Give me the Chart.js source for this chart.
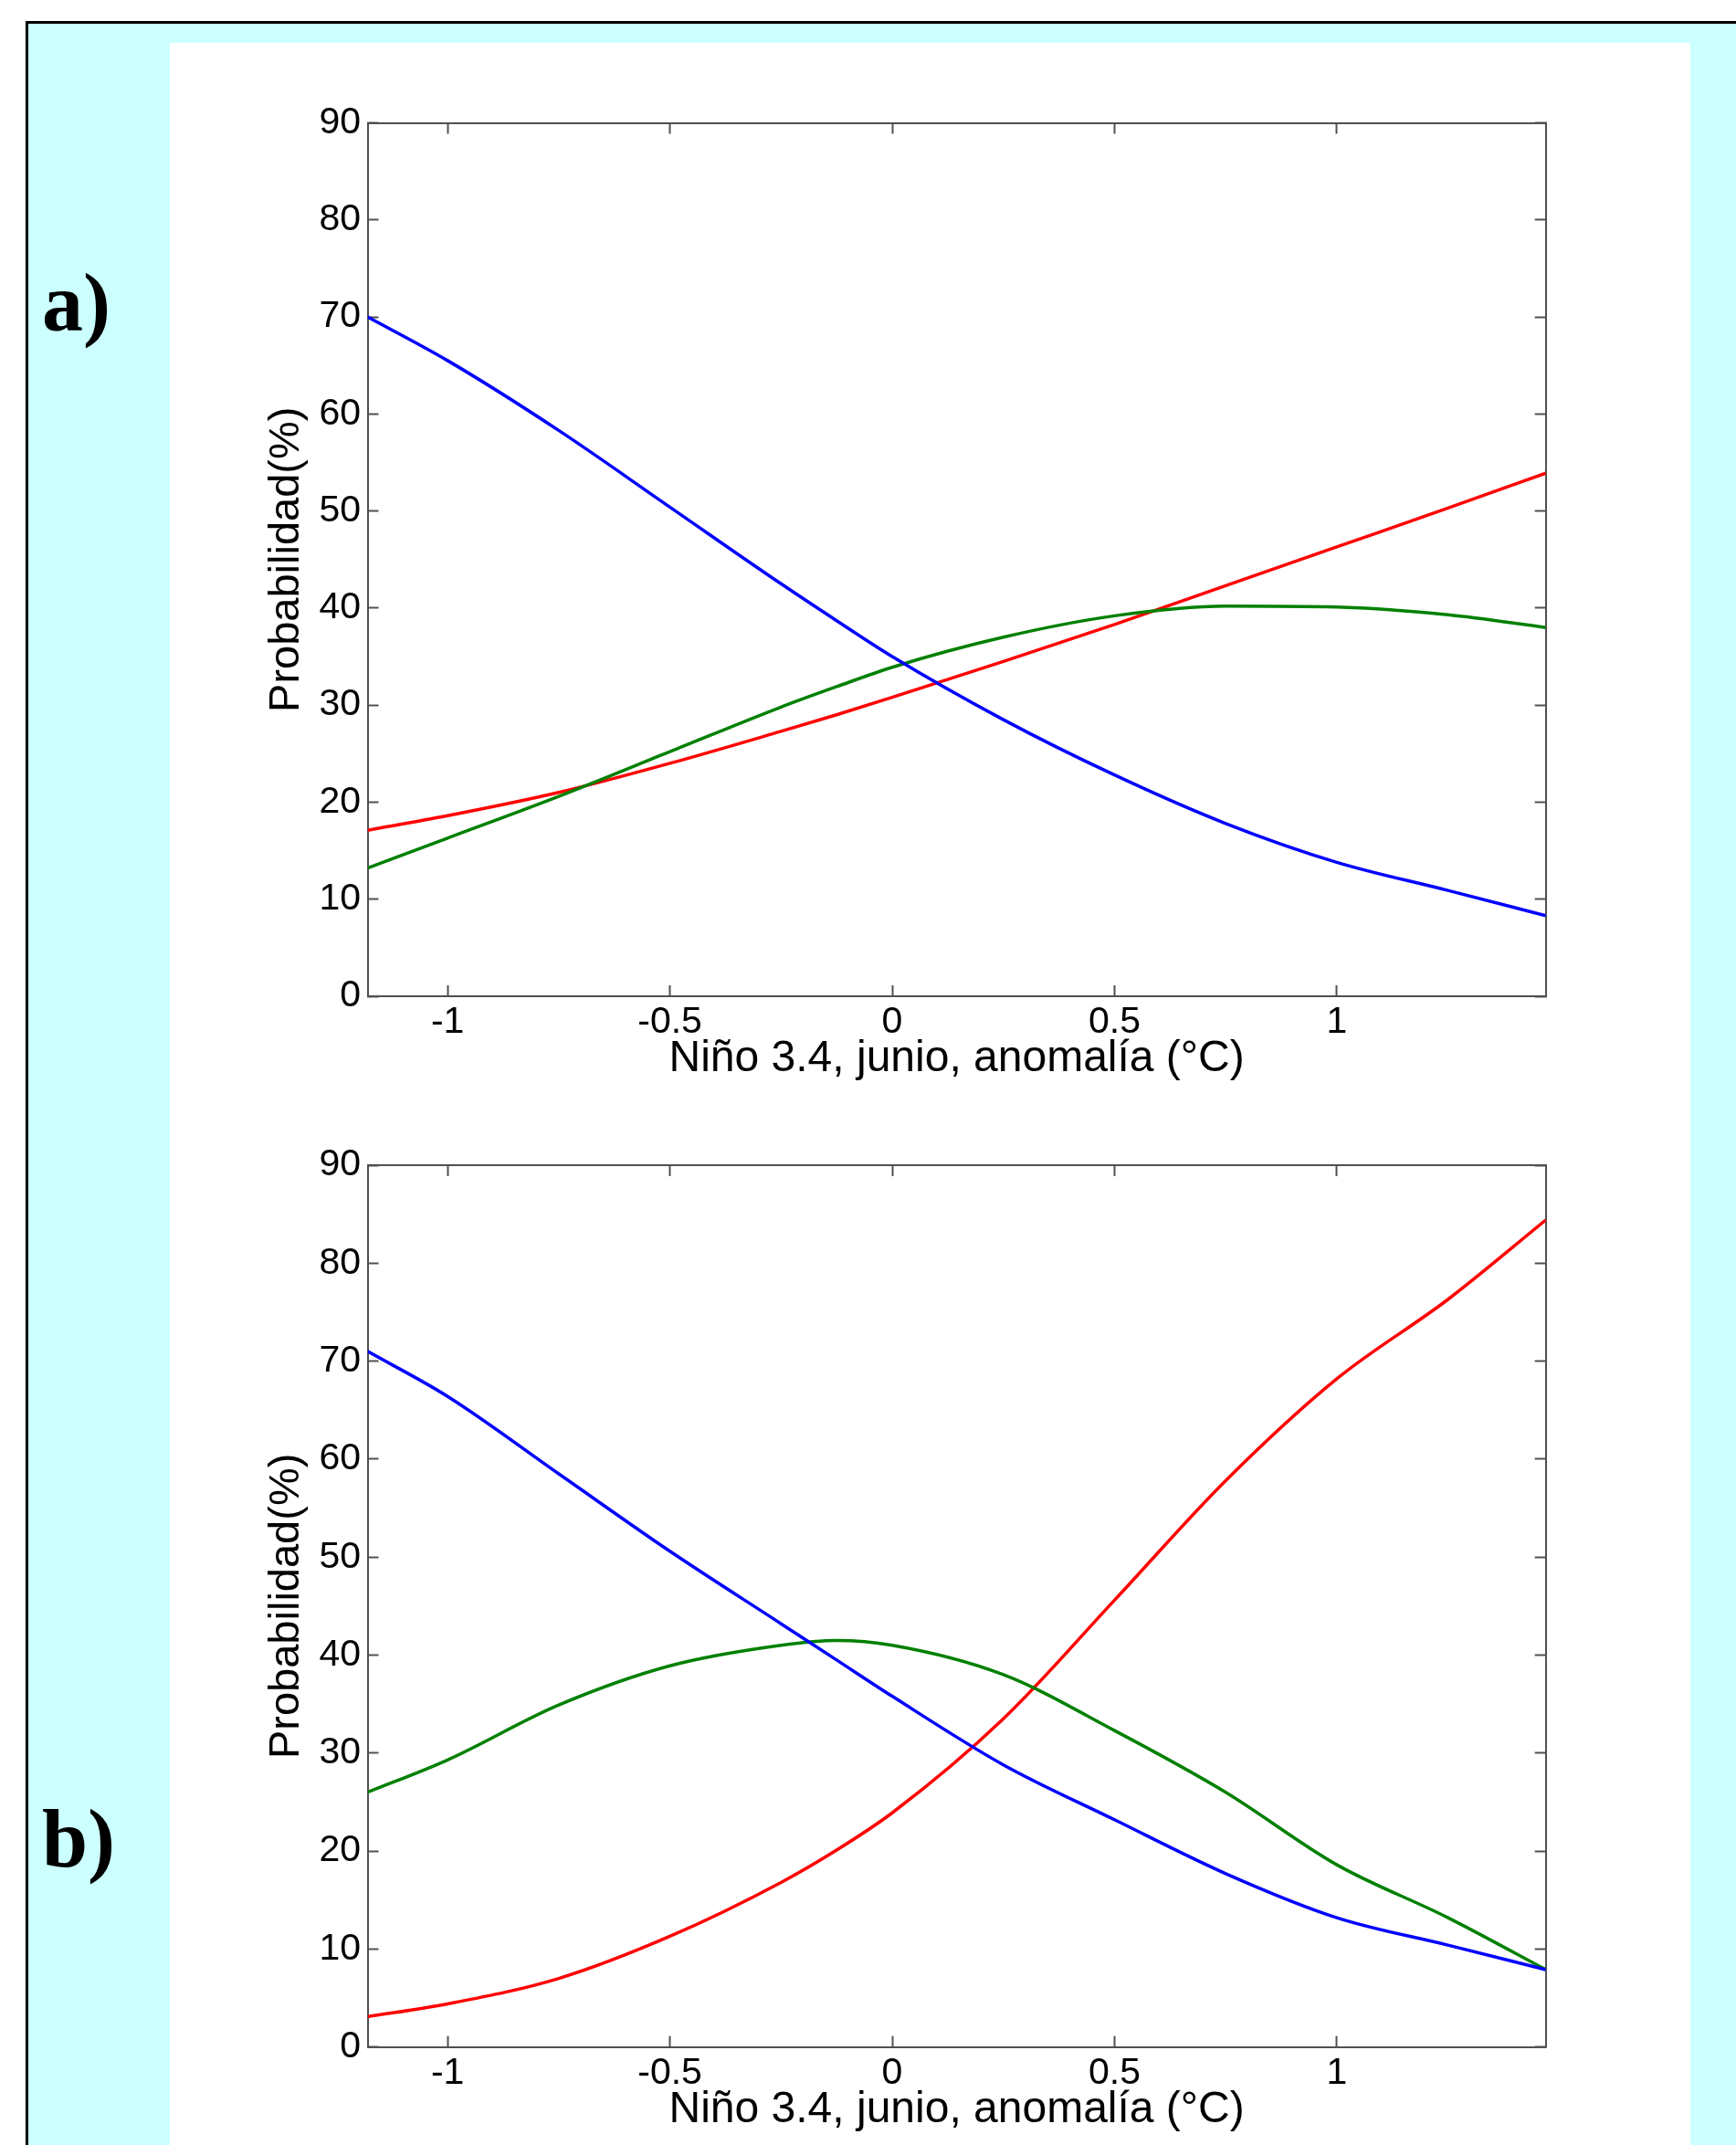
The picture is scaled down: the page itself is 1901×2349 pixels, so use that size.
<!DOCTYPE html>
<html>
<head>
<meta charset="utf-8">
<script src="https://cdn.jsdelivr.net/npm/chart.js@4.4.1/dist/chart.umd.min.js"></script>
<style>
body{margin:0;width:1901px;height:2349px;overflow:hidden;background:#fff;position:relative}
#marco{position:absolute;left:28px;top:23px;width:1920px;height:2400px;border:3px solid #000;background:#ccffff}
#hoja{position:absolute;left:186px;top:47px;width:1665px;height:2400px;background:#fff}
.letra{position:absolute;left:46px;font:bold 90px "Liberation Serif","Times New Roman",serif;line-height:90px;color:#000}
.panel{position:absolute;left:186px}
</style>
</head>
<body>
<div id="marco"></div>
<div id="hoja"></div>
<div class="letra" style="top:287px">a)</div>
<div class="letra" style="top:1969px">b)</div>
<div class="panel" style="top:47px"><canvas id="grafico_a" width="1665" height="1170"></canvas></div>
<div class="panel" style="top:1188px"><canvas id="grafico_b" width="1665" height="1161"></canvas></div>
<script>
//-----------------DATOS------------------
var anomalia = [-1.18, -1, -0.75, -0.5, -0.25, -0.125, 0, 0.25, 0.5, 0.75, 1, 1.25, 1.47];
var marcas_x = [-1, -0.5, 0, 0.5, 1];
var titulo_x = 'Niño 3.4, junio, anomalía (°C)';
var titulo_y = 'Probabilidad(%)';

// panel a)
var azul_a  = [70.0, 65.5, 58.3, 50.4, 42.5, 38.7, 35.0, 28.5, 22.8, 17.8, 13.8, 10.9, 8.3];
var verde_a = [13.2, 16.3, 20.6, 25.2, 29.8, 31.9, 33.9, 37.0, 39.2, 40.2, 40.1, 39.3, 38.0];
var rojo_a  = [17.1, 18.6, 21.0, 24.0, 27.3, 29.0, 30.8, 34.5, 38.3, 42.3, 46.3, 50.3, 53.9];

// panel b)
var azul_b  = [71.0, 66.4, 58.5, 50.6, 43.2, 39.5, 35.8, 28.8, 23.2, 17.7, 13.2, 10.4, 7.9];
var verde_b = [26.0, 29.3, 34.9, 38.9, 41.0, 41.5, 41.0, 38.0, 32.3, 26.0, 18.6, 13.2, 7.9];
var rojo_b  = [3.1, 4.4, 7.0, 11.3, 16.8, 20.1, 23.9, 33.5, 45.6, 57.8, 68.2, 76.3, 84.4];
//-----------------FIN DATOS------------------

var fuente = '"Liberation Sans", Arial, Helvetica, sans-serif';
var gris = '#505050';

function puntos(serie){
    return anomalia.map(function(x, i){ return {x: x, y: serie[i]} })
}

function serie_linea(serie, color){
    return {
        data: puntos(serie),
        borderColor: color,
        borderWidth: 3.5,
        pointRadius: 0,
        cubicInterpolationMode: 'monotone',
        fill: false
    }
}

function etiqueta_x(valor){
    return String(valor)
}

function crear_panel(id, rojo, verde, azul, geo){
    var ctx = document.getElementById(id).getContext('2d');
    var rejilla = {
        drawOnChartArea: false,
        drawTicks: true,
        tickLength: -12,
        tickWidth: 2,
        tickColor: gris
    };
    var borde = {display: true, color: gris, width: 2};
    return new Chart(ctx, {
        type: 'line',
        data: {
            datasets: [
                serie_linea(azul, '#0000ff'),
                serie_linea(verde, '#008000'),
                serie_linea(rojo, '#ff0000')
            ]
        },
        options: {
            responsive: false,
            animation: false,
            devicePixelRatio: 1,
            layout: {padding: 0},
            plugins: {legend: {display: false}, tooltip: {enabled: false}},
            scales: {
                x: {
                    type: 'linear',
                    position: 'bottom',
                    min: -1.18,
                    max: 1.47,
                    afterBuildTicks: function(s){ s.ticks = marcas_x.map(function(v){ return {value: v} }) },
                    afterFit: function(s){ s.height = geo.alto - geo.abajo },
                    grid: rejilla,
                    border: borde,
                    ticks: {
                        color: '#000',
                        padding: 16,
                        maxRotation: 0,
                        callback: etiqueta_x,
                        font: {family: fuente, size: 41}
                    },
                    title: {
                        display: true,
                        text: titulo_x,
                        color: '#000',
                        font: {family: fuente, size: 48},
                        padding: {top: 0, bottom: geo.pie}
                    }
                },
                x2: {
                    type: 'linear',
                    position: 'top',
                    min: -1.18,
                    max: 1.47,
                    afterBuildTicks: function(s){ s.ticks = marcas_x.map(function(v){ return {value: v} }) },
                    afterFit: function(s){ s.height = geo.arriba },
                    grid: rejilla,
                    border: borde,
                    ticks: {display: false}
                },
                y: {
                    position: 'left',
                    min: 0,
                    max: 90,
                    afterFit: function(s){ s.width = 216.5 },
                    grid: rejilla,
                    border: borde,
                    ticks: {
                        stepSize: 10,
                        color: '#000',
                        padding: 19.5,
                        font: {family: fuente, size: 41}
                    },
                    title: {
                        display: true,
                        text: titulo_y,
                        color: '#000',
                        font: {family: fuente, size: 47},
                        padding: {top: 100, bottom: 0}
                    }
                },
                y2: {
                    position: 'right',
                    min: 0,
                    max: 90,
                    afterFit: function(s){ s.width = 158.3 },
                    grid: rejilla,
                    border: borde,
                    ticks: {display: false, stepSize: 10}
                }
            }
        }
    })
}

var grafico_a = crear_panel('grafico_a', rojo_a, verde_a, azul_a, {alto: 1170, arriba: 87.5, abajo: 1044, pie: 28});
var grafico_b = crear_panel('grafico_b', rojo_b, verde_b, azul_b, {alto: 1161, arriba: 88, abajo: 1053.7, pie: 9.5});
</script>
</body>
</html>
